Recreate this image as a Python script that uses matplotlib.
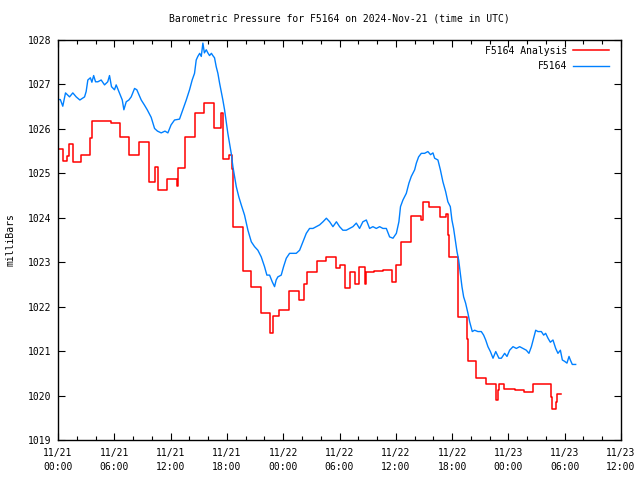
import matplotlib
matplotlib.use("Agg")
import matplotlib.pyplot as plt
import matplotlib.dates as mdates
import numpy as np
import pandas as pd

# hours after 2024-11-21 00:00 UTC
analysis_hours = [0.0, 0.51, 0.98, 1.12, 1.58, 2.5, 3.36, 3.6, 5.6, 6.63, 7.52, 8.61,
                  9.68, 10.34, 10.64, 11.64, 12.63, 12.77, 13.52, 14.63, 15.59, 16.65,
                  17.36, 17.61, 18.18, 18.53, 18.64, 19.67, 20.6, 21.62, 22.62, 22.9,
                  23.54, 24.6, 25.64, 26.17, 26.52, 27.59, 28.59, 29.58, 30.08, 30.58,
                  31.08, 31.61, 32.07, 32.71, 32.86, 33.64, 34.63, 35.59, 35.98, 36.59,
                  37.58, 38.72, 38.89, 39.53, 40.67, 41.31, 41.56, 41.66, 42.66, 43.62,
                  43.69, 44.58, 45.65, 46.64, 46.85, 46.99, 47.53, 48.67, 49.63, 50.62,
                  52.58, 52.69, 53.11, 53.22, 53.65]
analysis_mb = [1025.54, 1025.28, 1025.40, 1025.65, 1025.25, 1025.41, 1025.79, 1026.18,
               1026.13, 1025.81, 1025.41, 1025.70, 1024.80, 1025.14, 1024.62, 1024.87,
               1024.71, 1025.12, 1025.81, 1026.35, 1026.58, 1026.01, 1026.36, 1025.32,
               1025.41, 1025.10, 1023.79, 1022.80, 1022.45, 1021.85, 1021.40, 1021.79,
               1021.92, 1022.35, 1022.15, 1022.51, 1022.77, 1023.03, 1023.11, 1022.88,
               1022.93, 1022.41, 1022.79, 1022.50, 1022.89, 1022.50, 1022.77, 1022.80,
               1022.82, 1022.55, 1022.93, 1023.45, 1024.03, 1023.95, 1024.35, 1024.24,
               1024.01, 1024.08, 1023.61, 1023.12, 1021.77, 1021.27, 1020.78, 1020.39,
               1020.26, 1019.90, 1020.12, 1020.26, 1020.15, 1020.12, 1020.09, 1020.25,
               1019.97, 1019.69, 1019.85, 1020.03, 1020.03]

obs_hours = [0.0, 0.25, 0.51, 0.8, 1.23, 1.58, 1.94, 2.33, 2.83, 3.0, 3.18, 3.45, 3.61,
             3.8, 4.0, 4.25, 4.6, 4.96, 5.3, 5.49, 5.7, 6.02, 6.2, 6.56, 6.85, 7.02, 7.27,
             7.55, 7.8, 8.16, 8.4, 8.87, 9.2, 9.51, 9.93, 10.29, 10.6, 11.0, 11.4, 11.71,
             12.05, 12.42, 12.95, 13.3, 13.67, 14.02, 14.3, 14.55, 14.73, 14.9, 15.1,
             15.27, 15.44, 15.6, 15.8, 15.97, 16.15, 16.35, 16.5, 16.68, 16.86, 17.04,
             17.22, 17.4, 17.57, 17.75, 17.93, 18.1, 18.28, 18.46, 18.64, 18.82, 19.0,
             19.27, 19.53, 19.88, 20.24, 20.6, 20.95, 21.3, 21.66, 22.01, 22.26, 22.55,
             22.83, 23.08, 23.25, 23.43, 23.79, 24.04, 24.33, 24.68, 25.03, 25.39, 25.75,
             26.1, 26.46, 26.81, 27.17, 27.53, 27.88, 28.24, 28.6, 28.95, 29.3, 29.67,
             30.01, 30.36, 30.72, 31.08, 31.43, 31.79, 32.14, 32.49, 32.86, 33.21, 33.56,
             33.92, 34.28, 34.63, 34.99, 35.34, 35.7, 36.06, 36.33, 36.5, 36.76, 37.12,
             37.4, 37.65, 38.01, 38.19, 38.43, 38.72, 39.07, 39.42, 39.7, 39.96, 40.14,
             40.49, 40.75, 41.02, 41.31, 41.55, 41.81, 41.98, 42.16, 42.34, 42.52, 42.7,
             42.88, 43.05, 43.23, 43.44, 43.69, 43.87, 44.15, 44.4, 44.75, 45.11, 45.36,
             45.58, 45.82, 46.08, 46.36, 46.65, 46.99, 47.25, 47.6, 47.85, 48.13, 48.49,
             48.85, 49.2, 49.55, 49.91, 50.19, 50.45, 50.69, 50.91, 51.15, 51.51, 51.76,
             51.97, 52.22, 52.47, 52.75, 53.04, 53.28, 53.54, 53.75, 53.99, 54.24, 54.46,
             54.6, 54.81, 55.17]
obs_mb = [1026.66, 1026.66, 1026.51, 1026.81, 1026.72, 1026.81, 1026.72, 1026.65, 1026.72,
          1026.84, 1027.10, 1027.15, 1027.05, 1027.20, 1027.06, 1027.06, 1027.10, 1026.99,
          1027.06, 1027.20, 1026.95, 1026.88, 1026.99, 1026.80, 1026.65, 1026.43, 1026.61,
          1026.65, 1026.72, 1026.91, 1026.88, 1026.65, 1026.54, 1026.43, 1026.26, 1026.01,
          1025.95, 1025.91, 1025.95, 1025.91, 1026.09, 1026.20, 1026.22, 1026.43, 1026.65,
          1026.88, 1027.10, 1027.25, 1027.55, 1027.63, 1027.70, 1027.63, 1027.93, 1027.71,
          1027.78, 1027.71, 1027.65, 1027.70, 1027.65, 1027.60, 1027.40, 1027.25, 1027.03,
          1026.84, 1026.65, 1026.43, 1026.16, 1025.90, 1025.67, 1025.45, 1025.15, 1024.92,
          1024.70, 1024.47, 1024.29, 1024.06, 1023.72, 1023.46, 1023.35, 1023.27, 1023.12,
          1022.90, 1022.71, 1022.71, 1022.56, 1022.45, 1022.60, 1022.67, 1022.71, 1022.90,
          1023.09, 1023.20, 1023.20, 1023.20, 1023.27, 1023.46, 1023.65, 1023.76, 1023.76,
          1023.80, 1023.84, 1023.91, 1023.99, 1023.91, 1023.80, 1023.91, 1023.80, 1023.72,
          1023.72, 1023.76, 1023.80, 1023.88, 1023.76, 1023.91, 1023.95, 1023.76, 1023.80,
          1023.76, 1023.80, 1023.76, 1023.76, 1023.57, 1023.54, 1023.65, 1023.91, 1024.25,
          1024.40, 1024.55, 1024.78, 1024.93, 1025.08, 1025.23, 1025.37, 1025.45, 1025.45,
          1025.49, 1025.42, 1025.46, 1025.34, 1025.30, 1025.08, 1024.81, 1024.59, 1024.36,
          1024.25, 1023.95, 1023.76, 1023.50, 1023.24, 1023.05, 1022.75, 1022.45, 1022.22,
          1022.08, 1021.85, 1021.66, 1021.44, 1021.47, 1021.44, 1021.44, 1021.36, 1021.25,
          1021.10, 1020.99, 1020.84, 1020.99, 1020.84, 1020.84, 1020.95, 1020.88, 1021.02,
          1021.10, 1021.06, 1021.10, 1021.06, 1021.02, 1020.95, 1021.10, 1021.29, 1021.47,
          1021.44, 1021.44, 1021.36, 1021.40, 1021.29, 1021.20, 1021.25, 1021.06, 1020.95,
          1021.02, 1020.80, 1020.77, 1020.73, 1020.88, 1020.80, 1020.70, 1020.70]

start = pd.Timestamp("2024-11-21 00:00")
end = pd.Timestamp("2024-11-23 12:00")


def to_times(hours):
    return (start + pd.to_timedelta(np.array(hours), unit="h")).to_numpy()


plt.rcParams["font.family"] = ["DejaVu Sans Mono"]
plt.rcParams["font.size"] = 7

fig = plt.figure(figsize=(6.4, 4.8), dpi=100)
ax = fig.add_axes([58 / 640, 40 / 480, 563 / 640, 400 / 480])

ax.plot(to_times(analysis_hours), analysis_mb, color="#ff0000", linewidth=1.1,
        drawstyle="steps-post", label="F5164 Analysis")
ax.plot(to_times(obs_hours), obs_mb, color="#0080ff", linewidth=1.0, label="F5164")

ax.set_xlim(start.to_numpy(), end.to_numpy())
ax.set_ylim(1019, 1028)
ax.set_yticks(np.arange(1019, 1029, 1))
ax.yaxis.set_major_formatter(matplotlib.ticker.FormatStrFormatter("%d"))

ax.xaxis.set_major_locator(mdates.HourLocator(byhour=[0, 6, 12, 18]))
ax.xaxis.set_minor_locator(mdates.HourLocator(interval=2))
ax.xaxis.set_major_formatter(mdates.DateFormatter("%m/%d\n%H:%M"))
for lab in ax.get_xticklabels():
    lab.set_linespacing(1.5)

ax.tick_params(which="both", direction="in", top=True, right=True, width=0.8)
ax.tick_params(which="major", length=5)
ax.tick_params(which="minor", length=3)
ax.tick_params(axis="x", pad=6)
ax.tick_params(axis="y", pad=5)
for s in ax.spines.values():
    s.set_linewidth(1.0)

ax.set_ylabel("milliBars")
ax.yaxis.set_label_coords(-0.075, 0.5)
ax.set_title("Barometric Pressure for F5164 on 2024-Nov-21 (time in UTC)",
             fontsize=7, pad=13)

ax.legend(loc="upper right", bbox_to_anchor=(0.979, 0.986), frameon=False,
          markerfirst=False, handlelength=3.7, handletextpad=0.6,
          labelspacing=0.55, borderpad=0, borderaxespad=0)

fig.savefig("out.png", dpi=100)
